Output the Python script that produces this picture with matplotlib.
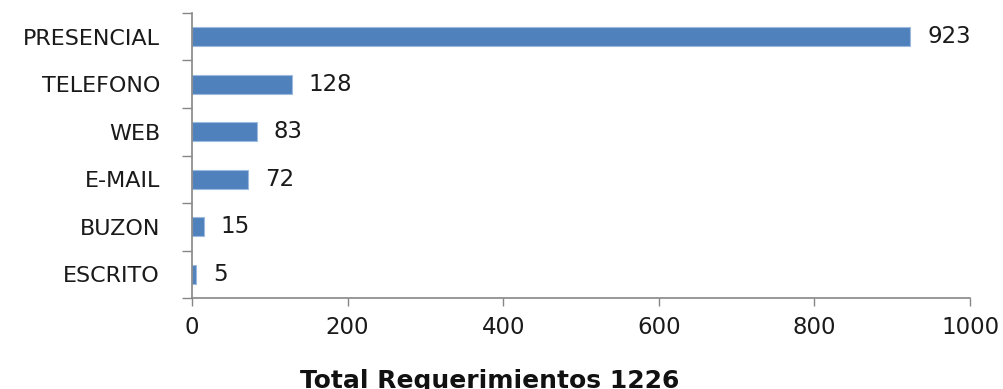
import numpy as np
import matplotlib.pyplot as plt

# canales de atención y número de requerimientos
canales = ["PRESENCIAL", "TELEFONO", "WEB", "E-MAIL", "BUZON", "ESCRITO"]
requerimientos = [923, 128, 83, 72, 15, 5]
total = 1226

x_ticks = [0, 200, 400, 600, 800, 1000]

color_barra = "#4F81BD"
color_eje = "#868686"

fig = plt.figure(figsize=(10.04, 3.89), dpi=100)
ax = fig.add_axes([0.1912, 0.2339, 0.775, 0.7327])

y = np.arange(len(canales))
ax.barh(y, requerimientos, height=0.4, color=color_barra,
        edgecolor="#9DB9DE", linewidth=0.8)

for yi, v in zip(y, requerimientos):
    ax.text(v + 22, yi, str(v), va="center", ha="left",
            fontsize=16.5, color="#1a1a1a")

ax.set_xlim(0, 1000)
ax.set_ylim(len(canales) - 0.5, -0.5)
ax.set_xticks(x_ticks)
ax.set_yticks(y)
ax.set_yticklabels(canales)
ax.set_yticks(np.arange(-0.5, len(canales)), minor=True)

ax.tick_params(axis="y", which="major", length=0, pad=23, labelsize=16,
               labelcolor="#1a1a1a")
ax.tick_params(axis="y", which="minor", length=7.5, width=1, color=color_eje)
ax.tick_params(axis="x", length=6, width=1, color=color_eje, pad=7,
               labelsize=16.5, labelcolor="#1a1a1a")

for s in ["top", "right"]:
    ax.spines[s].set_visible(False)
for s in ["left", "bottom"]:
    ax.spines[s].set_color(color_eje)
    ax.spines[s].set_linewidth(1.2)

fig.text(0.488, 1 - 369 / 389, f"Total Requerimientos {total}", ha="center",
         va="top", fontsize=18, fontweight="bold", color="#111111")

fig.savefig("out.png", dpi=100)
